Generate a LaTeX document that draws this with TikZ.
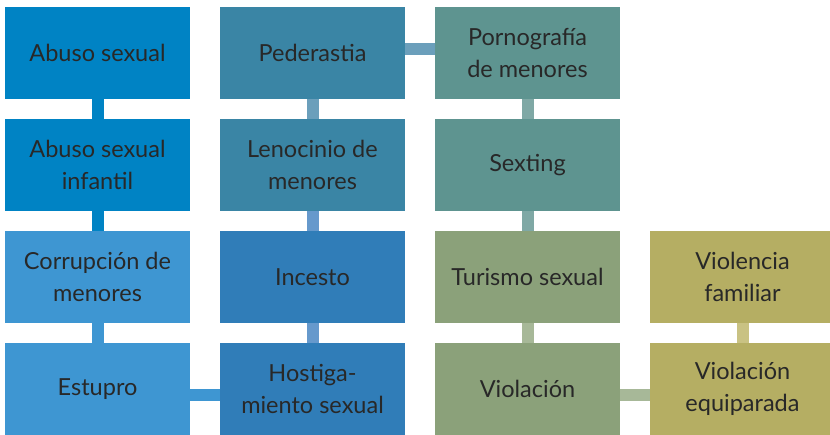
\documentclass[tikz,border=0pt]{standalone}
\usepackage{fontspec}
\setmainfont{Lato}
\definecolor{azulA}{RGB}{0,131,196}
\definecolor{azulB}{RGB}{62,150,210}
\definecolor{petroA}{RGB}{58,133,165}
\definecolor{petroB}{RGB}{48,125,184}
\definecolor{verdeA}{RGB}{94,148,144}
\definecolor{verdeB}{RGB}{139,161,122}
\definecolor{oliva}{RGB}{181,174,99}
\definecolor{linkPetroA}{RGB}{107,159,187}
\definecolor{linkPetroB}{RGB}{102,153,204}
\definecolor{linkVerdeA}{RGB}{127,168,165}
\definecolor{linkVerdeB}{RGB}{167,184,152}
\definecolor{linkOliva}{RGB}{201,194,131}
\definecolor{texto}{RGB}{40,40,40}
\begin{document}
\begin{tikzpicture}[x=1pt, y=1pt, line cap=butt, font=\fontsize{23.5}{32}\selectfont]
			\tikzset{caja/.style={fill=#1, minimum width=185pt, minimum height=92pt, inner sep=0pt, align=center, text=texto}}
			\tikzset{enlace/.style={line width=12pt, draw=#1}}
			\useasboundingbox (0,0) rectangle (830,435);
			\node[caja=azulA] (abuso) at (97.5,382) {Abuso sexual};
			\node[caja=azulA] (infantil) at (97.5,270) {Abuso sexual\\infantil};
			\node[caja=azulB] (corrupcion) at (97.5,158) {Corrupción de\\menores};
			\node[caja=azulB] (estupro) at (97.5,46) {Estupro};
			\node[caja=petroA] (pederastia) at (312.5,382) {Pederastia};
			\node[caja=petroA] (lenocinio) at (312.5,270) {Lenocinio de\\menores};
			\node[caja=petroB] (incesto) at (312.5,158) {Incesto};
			\node[caja=petroB] (hostiga) at (312.5,46) {Hostiga-\\miento sexual};
			\node[caja=verdeA] (porno) at (527.5,382) {Pornografía\\de menores};
			\node[caja=verdeA] (sexting) at (527.5,270) {Sexting};
			\node[caja=verdeB] (turismo) at (527.5,158) {Turismo sexual};
			\node[caja=verdeB] (violacion) at (527.5,46) {Violación};
			\node[caja=oliva] (familiar) at (742.5,158) {Violencia\\familiar};
			\node[caja=oliva] (equiparada) at (742.5,46) {Violación\\equiparada};
			\draw[enlace=azulA] (abuso) -- (infantil);
			\draw[enlace=azulA] (infantil) -- (corrupcion);
			\draw[enlace=azulB] (corrupcion) -- (estupro);
			\draw[enlace=azulB] ([yshift=-6pt]estupro.east) -- ([yshift=-6pt]hostiga.west);
			\draw[enlace=linkPetroA] (pederastia) -- (lenocinio);
			\draw[enlace=linkPetroB] (lenocinio) -- (incesto);
			\draw[enlace=linkPetroB] (incesto) -- (hostiga);
			\draw[enlace=linkPetroA] ([yshift=4pt]pederastia.east) -- ([yshift=4pt]porno.west);
			\draw[enlace=linkVerdeA] (porno) -- (sexting);
			\draw[enlace=linkVerdeA] (sexting) -- (turismo);
			\draw[enlace=linkVerdeB] (turismo) -- (violacion);
			\draw[enlace=linkVerdeB] ([yshift=-6pt]violacion.east) -- ([yshift=-6pt]equiparada.west);
			\draw[enlace=linkOliva] (familiar) -- (equiparada);
		\end{tikzpicture}
\end{document}
